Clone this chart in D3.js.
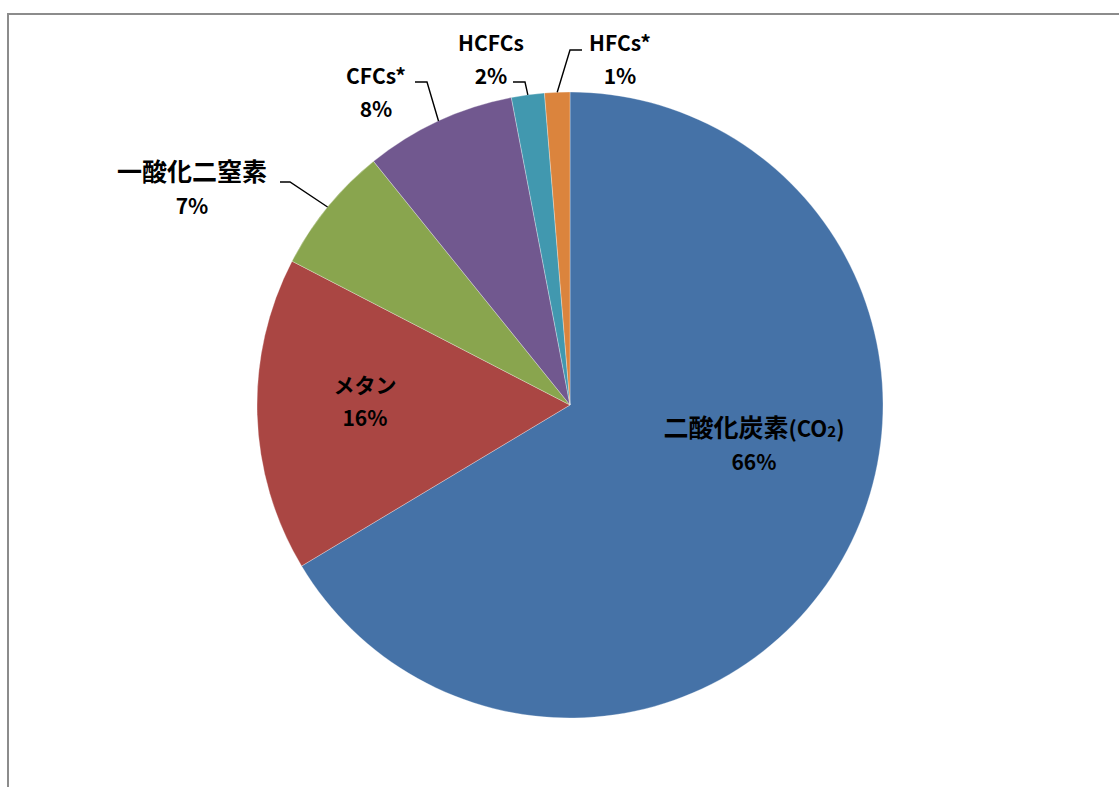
<!DOCTYPE html>
<html><head><meta charset="utf-8">
<script src="https://cdn.jsdelivr.net/npm/d3@7"></script>
<style>
html,body{margin:0;padding:0;background:#fff;overflow:hidden;}
text{font-family:"Noto Sans CJK JP","Noto Sans",sans-serif;font-weight:bold;fill:#000;}
</style></head>
<body>
<svg id="chart" width="1119" height="787"></svg>
<script>
// data
const categories = ["二酸化炭素(CO2)", "メタン", "一酸化二窒素", "CFCs*", "HCFCs", "HFCs*"];
const values = [66.4, 16.2, 6.6, 7.8, 1.7, 1.3];
const percentLabels = ["66%", "16%", "7%", "8%", "2%", "1%"];
const colors = ["#4572A7", "#AA4643", "#89A54E", "#71588F", "#4198AF", "#DB843D"];

// layout (label positions: [centerX, firstBaseline], leader: [startX, elbowX, y] or null)
const labelPos = [[754, 437], [365, 393], [192, 181], [376, 84], [491, 51], [620, 51]];
const leaders = [null, null, [280, 290, 182], [415, 427, 82], [513, 525, 82], [582, 570, 50]];

const svg = d3.select("#chart");
svg.append("rect").attr("x", 8).attr("y", 14).attr("width", 1200).attr("height", 900)
  .attr("fill", "#fff").attr("stroke", "#8c8c8c").attr("stroke-width", 2);

const cx = 570, cy = 405, R = 313;
const g = svg.append("g").attr("transform", `translate(${cx},${cy})`);
const pie = d3.pie().sort(null).value(d => d)(values);
const arc = d3.arc().innerRadius(0).outerRadius(R);

g.selectAll("path.slice").data(pie).join("path")
  .attr("class", "slice")
  .attr("d", arc)
  .attr("fill", (d, i) => colors[i])
  .attr("stroke", "#ffffff").attr("stroke-opacity", 0.5).attr("stroke-width", 0.6);

// leader lines
pie.forEach((d, i) => {
  const L = leaders[i];
  if (!L) return;
  const a = (d.startAngle + d.endAngle) / 2;
  const px = cx + R * Math.sin(a), py = cy - R * Math.cos(a);
  svg.append("polyline")
    .attr("points", `${L[0]},${L[2]} ${L[1]},${L[2]} ${px},${py}`)
    .attr("fill", "none").attr("stroke", "#000").attr("stroke-width", 1.4);
});

// labels
function addRuns(parent, str) {
  const re = /([\u4e00-\u9fff]+)|(2\))|([^\u4e00-\u9fff]+?(?=2\)|[\u4e00-\u9fff]|$))/g;
  let m;
  const parts = str.match(/[\u4e00-\u9fff]+|[^\u4e00-\u9fff]+/g);
  parts.forEach(p => {
    if (/[\u4e00-\u9fff]/.test(p)) {
      parent.append("tspan").style("font-size", "25px").text(p);
    } else if (p === "(CO2)") {
      parent.append("tspan").style("font-size", "22px").text("(CO");
      parent.append("tspan").style("font-size", "15px").text("2");
      parent.append("tspan").style("font-size", "22px").text(")");
    } else {
      parent.append("tspan").text(p);
    }
  });
}
categories.forEach((c, i) => {
  const [x, y] = labelPos[i];
  const t = svg.append("text").attr("text-anchor", "middle").style("font-size", "21px");
  const l1 = t.append("tspan").attr("x", x).attr("y", y);
  addRuns(l1, c);
  t.append("tspan").attr("x", x).attr("y", y + 33).text(percentLabels[i]);
});
</script>
</body></html>
